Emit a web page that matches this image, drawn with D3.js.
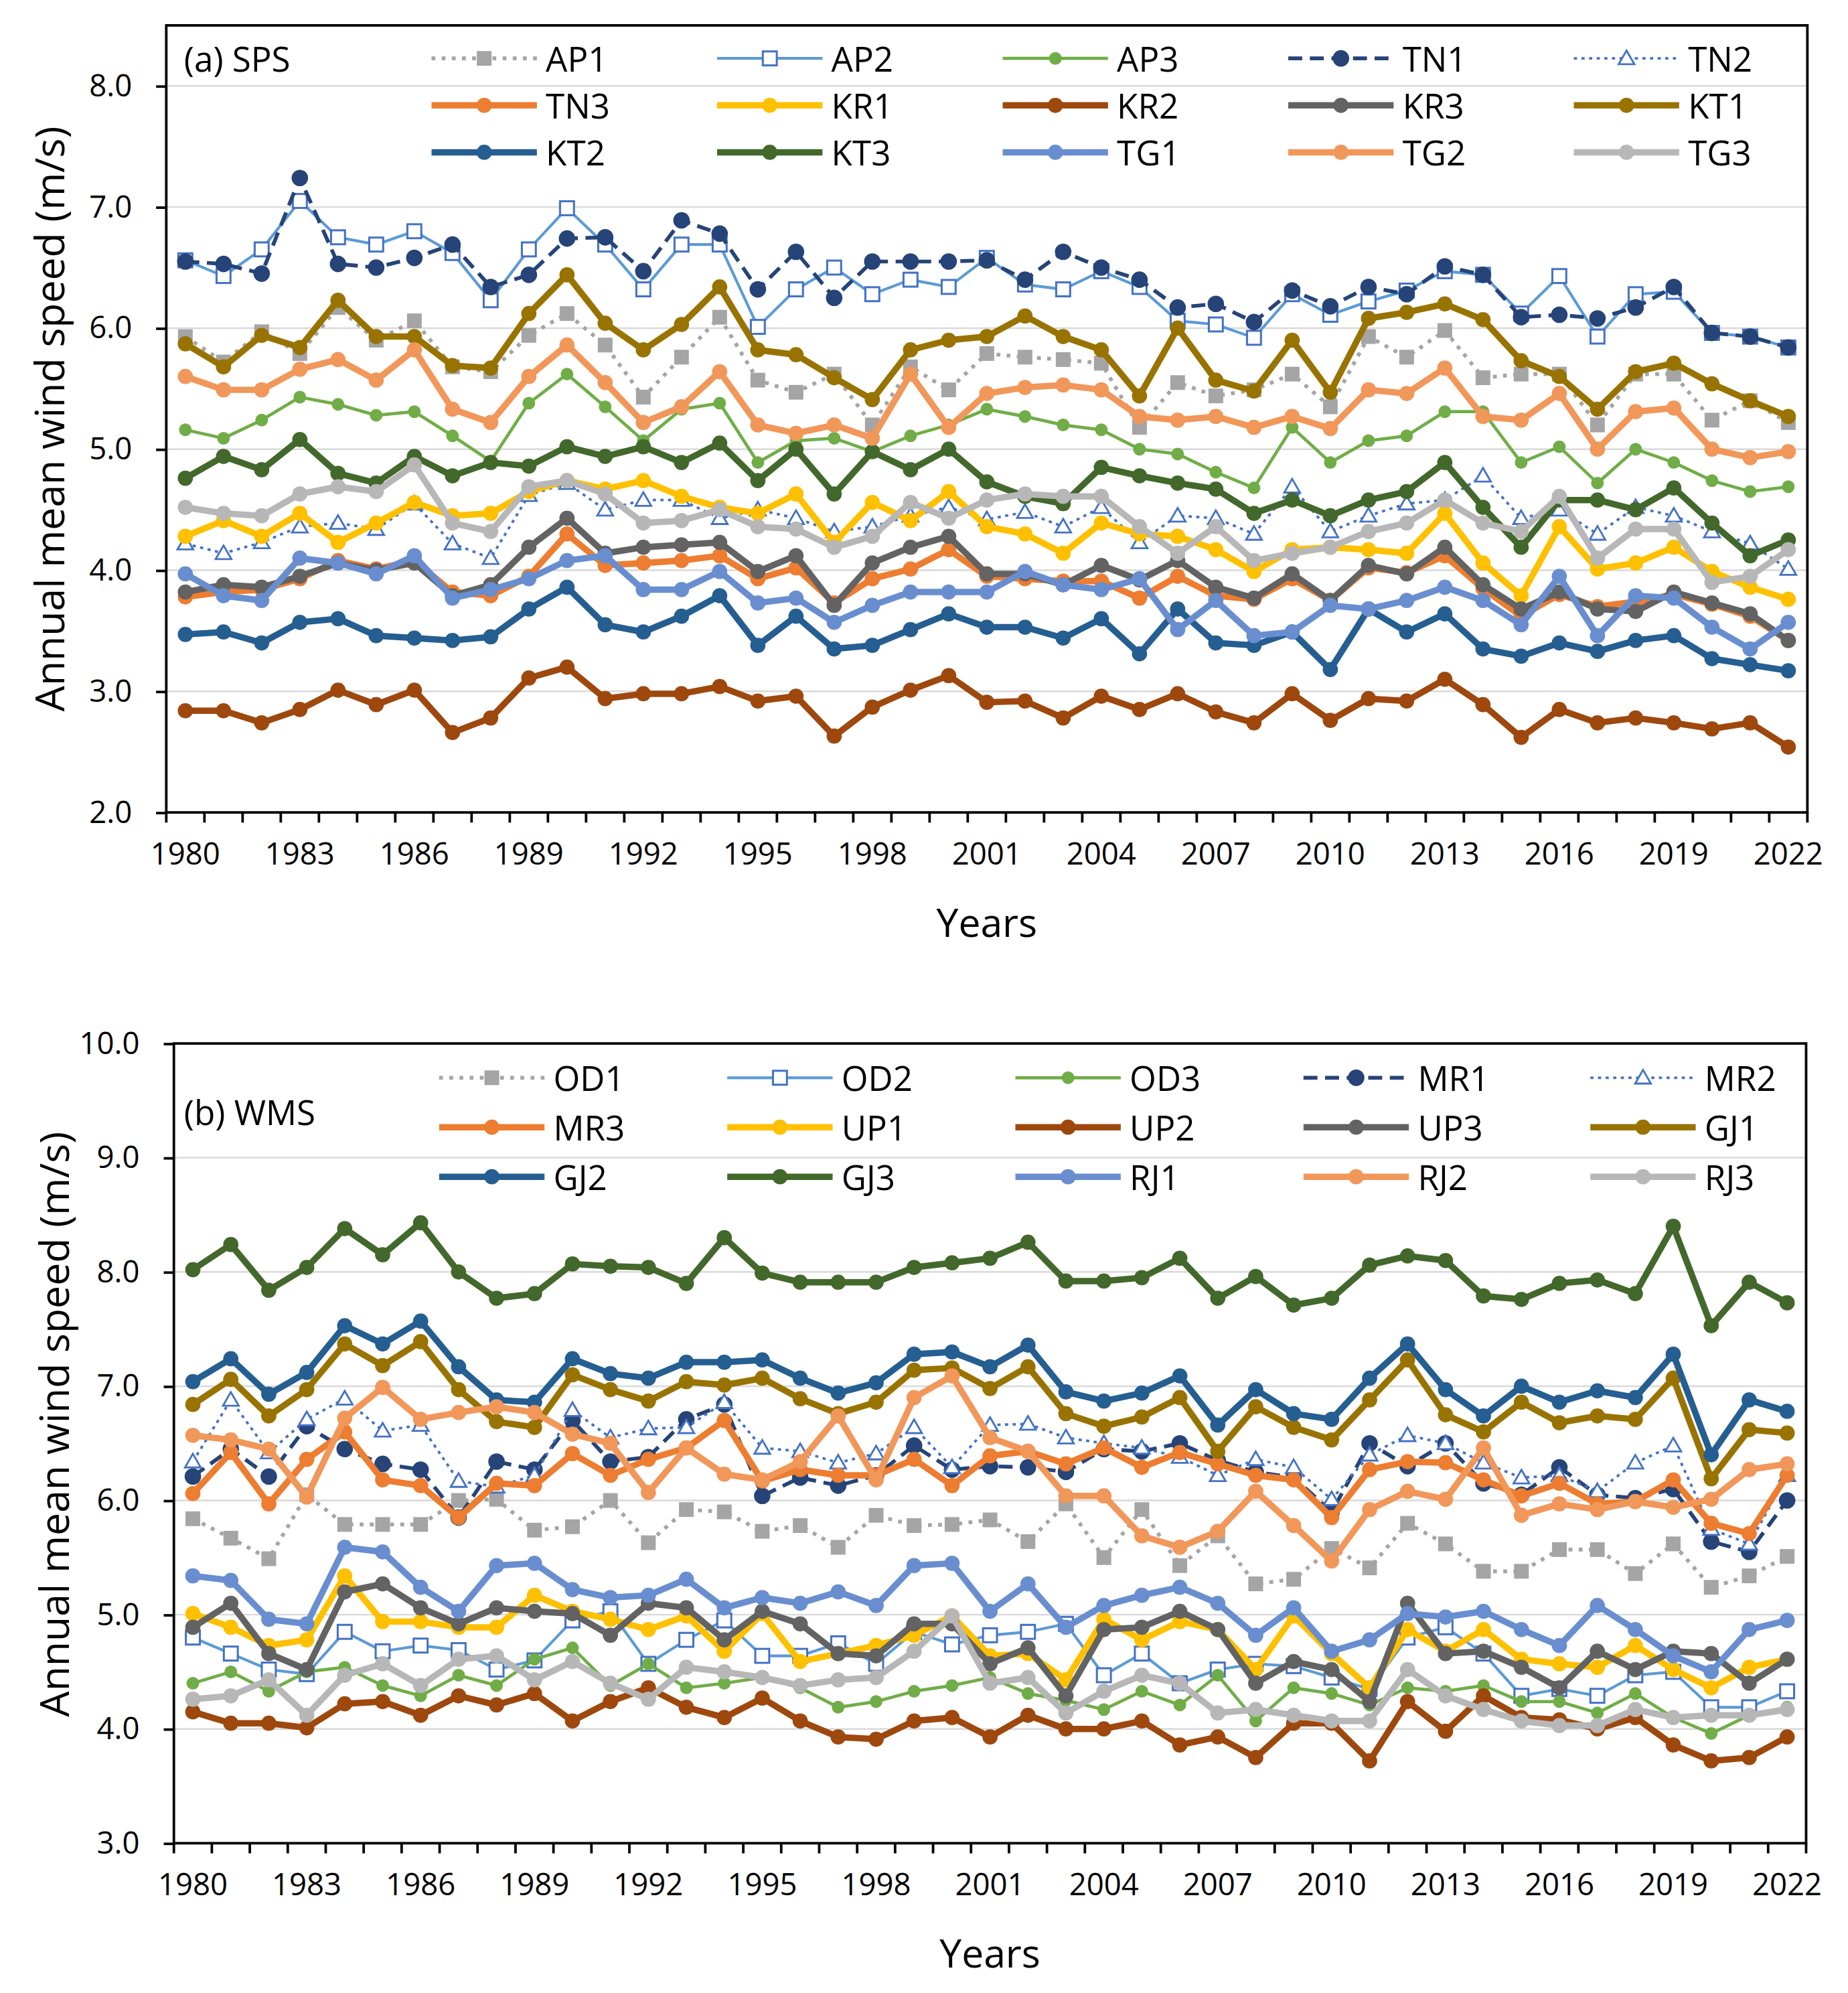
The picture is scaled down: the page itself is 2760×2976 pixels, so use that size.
<!DOCTYPE html>
<html>
<head>
<meta charset="utf-8">
<script src="https://cdn.jsdelivr.net/npm/d3@7/dist/d3.min.js"></script>
<style>
  body { margin: 0; background: #fff; }
  svg text { font-family: "Open Sans", "Noto Sans", sans-serif; fill: #000; }
</style>
</head>
<body>
<script>
// categories and ticks
var years = [1980,1981,1982,1983,1984,1985,1986,1987,1988,1989,1990,1991,1992,1993,1994,1995,1996,1997,1998,1999,
             2000,2001,2002,2003,2004,2005,2006,2007,2008,2009,2010,2011,2012,2013,2014,2015,2016,2017,2018,2019,
             2020,2021,2022];
var xTickLabels = [1980,1983,1986,1989,1992,1995,1998,2001,2004,2007,2010,2013,2016,2019,2022];
var yTicksSPS = [2,3,4,5,6,7,8];
var yTicksWMS = [3,4,5,6,7,8,9,10];

// (a) SPS - annual mean wind speed (m/s)
var AP1 = [5.93,5.72,5.97,5.79,6.17,5.90,6.06,5.68,5.64,5.94,6.12,5.86,5.43,5.76,6.09,5.57,5.47,5.62,5.20,5.68,5.49,5.79,5.76,5.74,5.71,5.18,5.55,5.44,5.49,5.62,5.35,5.93,5.76,5.98,5.59,5.62,5.62,5.20,5.62,5.62,5.24,5.40,5.22];
var AP2 = [6.56,6.43,6.65,7.05,6.75,6.69,6.80,6.62,6.23,6.65,6.99,6.69,6.32,6.69,6.69,6.01,6.32,6.50,6.28,6.40,6.34,6.58,6.36,6.32,6.47,6.34,6.06,6.03,5.92,6.28,6.11,6.22,6.31,6.47,6.44,6.12,6.43,5.93,6.28,6.30,5.96,5.93,5.84];
var AP3 = [5.16,5.09,5.24,5.43,5.37,5.28,5.31,5.11,4.90,5.38,5.62,5.35,5.07,5.33,5.38,4.89,5.07,5.09,4.98,5.11,5.20,5.33,5.27,5.20,5.16,5.00,4.96,4.81,4.68,5.18,4.89,5.07,5.11,5.31,5.31,4.89,5.02,4.72,5.00,4.89,4.74,4.65,4.69];
var TN1 = [6.55,6.53,6.45,7.24,6.53,6.50,6.58,6.69,6.34,6.44,6.74,6.75,6.47,6.89,6.78,6.32,6.63,6.25,6.55,6.55,6.55,6.56,6.40,6.63,6.50,6.40,6.17,6.20,6.05,6.31,6.18,6.34,6.28,6.51,6.44,6.09,6.11,6.08,6.17,6.34,5.96,5.93,5.84];
var TN2 = [4.22,4.14,4.23,4.36,4.39,4.34,4.55,4.22,4.10,4.62,4.72,4.50,4.58,4.58,4.43,4.50,4.43,4.32,4.36,4.45,4.52,4.42,4.48,4.36,4.52,4.23,4.45,4.43,4.30,4.69,4.32,4.45,4.55,4.58,4.78,4.43,4.50,4.30,4.52,4.45,4.32,4.22,4.01];
var TN3 = [3.78,3.82,3.84,3.93,4.08,4.01,4.08,3.82,3.79,3.95,4.30,4.04,4.06,4.08,4.12,3.93,4.02,3.73,3.93,4.01,4.17,3.95,3.93,3.91,3.91,3.77,3.95,3.79,3.76,3.93,3.75,4.02,3.98,4.12,3.85,3.62,3.80,3.70,3.74,3.80,3.72,3.62,3.42];
var KR1 = [4.28,4.41,4.28,4.47,4.23,4.39,4.56,4.45,4.47,4.65,4.74,4.67,4.74,4.61,4.52,4.47,4.63,4.23,4.56,4.41,4.65,4.36,4.30,4.14,4.39,4.30,4.28,4.17,3.99,4.17,4.19,4.17,4.14,4.47,4.06,3.79,4.36,4.01,4.06,4.19,3.99,3.86,3.76];
var KR2 = [2.84,2.84,2.74,2.85,3.01,2.89,3.01,2.66,2.78,3.11,3.20,2.94,2.98,2.98,3.04,2.92,2.96,2.63,2.87,3.01,3.13,2.91,2.92,2.78,2.96,2.85,2.98,2.83,2.74,2.98,2.76,2.94,2.92,3.10,2.89,2.62,2.85,2.74,2.78,2.74,2.69,2.74,2.54];
var KR3 = [3.82,3.88,3.86,3.95,4.06,4.00,4.06,3.79,3.88,4.19,4.43,4.14,4.19,4.21,4.23,3.99,4.12,3.71,4.06,4.19,4.28,3.97,3.97,3.88,4.04,3.92,4.08,3.86,3.77,3.97,3.75,4.04,3.97,4.19,3.88,3.68,3.82,3.68,3.66,3.82,3.73,3.64,3.42];
var KT1 = [5.87,5.68,5.94,5.84,6.23,5.93,5.93,5.69,5.67,6.12,6.44,6.04,5.82,6.03,6.34,5.82,5.78,5.59,5.41,5.82,5.90,5.93,6.10,5.93,5.82,5.44,6.00,5.57,5.48,5.90,5.47,6.08,6.13,6.20,6.07,5.73,5.60,5.33,5.64,5.71,5.54,5.40,5.27];
var KT2 = [3.47,3.49,3.40,3.57,3.60,3.46,3.44,3.42,3.45,3.68,3.86,3.55,3.49,3.62,3.79,3.38,3.62,3.35,3.38,3.51,3.64,3.53,3.53,3.44,3.60,3.31,3.68,3.40,3.38,3.49,3.18,3.68,3.49,3.64,3.35,3.29,3.40,3.33,3.42,3.46,3.27,3.22,3.17];
var KT3 = [4.76,4.94,4.83,5.08,4.80,4.72,4.94,4.78,4.89,4.86,5.02,4.94,5.02,4.89,5.05,4.74,5.00,4.63,4.98,4.83,5.00,4.73,4.61,4.55,4.85,4.78,4.72,4.67,4.47,4.58,4.45,4.58,4.65,4.89,4.52,4.19,4.58,4.58,4.50,4.68,4.39,4.12,4.25];
var TG1 = [3.97,3.79,3.75,4.10,4.06,3.97,4.12,3.77,3.84,3.93,4.08,4.12,3.84,3.84,3.99,3.73,3.77,3.57,3.71,3.82,3.82,3.82,3.99,3.88,3.84,3.93,3.51,3.75,3.46,3.49,3.71,3.68,3.75,3.86,3.75,3.55,3.95,3.46,3.79,3.77,3.53,3.35,3.57];
var TG2 = [5.60,5.49,5.49,5.66,5.74,5.57,5.82,5.33,5.22,5.60,5.86,5.55,5.22,5.35,5.64,5.20,5.13,5.20,5.09,5.62,5.18,5.46,5.51,5.53,5.49,5.27,5.24,5.27,5.18,5.27,5.17,5.49,5.46,5.67,5.27,5.24,5.46,5.00,5.31,5.34,5.00,4.93,4.98];
var TG3 = [4.52,4.47,4.45,4.63,4.69,4.65,4.87,4.39,4.32,4.69,4.74,4.63,4.39,4.41,4.50,4.36,4.34,4.19,4.28,4.56,4.43,4.58,4.63,4.61,4.61,4.36,4.14,4.36,4.08,4.14,4.19,4.32,4.39,4.58,4.39,4.32,4.61,4.10,4.34,4.34,3.90,3.95,4.17];

// (b) WMS - annual mean wind speed (m/s)
var OD1 = [5.84,5.67,5.49,6.05,5.79,5.79,5.79,6.00,6.01,5.74,5.77,6.00,5.63,5.92,5.90,5.73,5.78,5.59,5.87,5.78,5.79,5.83,5.64,5.97,5.50,5.92,5.43,5.69,5.27,5.31,5.58,5.41,5.80,5.62,5.38,5.38,5.57,5.57,5.36,5.62,5.24,5.34,5.51];
var OD2 = [4.80,4.66,4.52,4.48,4.85,4.68,4.73,4.69,4.52,4.60,4.95,5.03,4.57,4.78,4.95,4.64,4.64,4.75,4.57,4.85,4.74,4.82,4.85,4.92,4.47,4.66,4.40,4.52,4.57,4.55,4.45,4.35,4.80,4.89,4.66,4.29,4.35,4.29,4.47,4.50,4.19,4.19,4.33];
var OD3 = [4.40,4.50,4.33,4.50,4.54,4.38,4.29,4.47,4.38,4.61,4.71,4.38,4.57,4.36,4.40,4.45,4.36,4.19,4.24,4.33,4.38,4.45,4.31,4.25,4.17,4.33,4.21,4.47,4.07,4.36,4.31,4.21,4.36,4.33,4.38,4.24,4.24,4.14,4.31,4.10,3.96,4.12,4.19];
var MR1 = [6.21,6.45,6.21,6.65,6.45,6.32,6.27,5.85,6.34,6.27,6.70,6.34,6.38,6.71,6.84,6.04,6.20,6.13,6.22,6.48,6.27,6.30,6.29,6.25,6.45,6.43,6.50,6.35,6.25,6.20,5.90,6.50,6.30,6.50,6.15,6.05,6.29,6.05,6.02,6.10,5.64,5.55,6.00];
var MR2 = [6.34,6.88,6.42,6.71,6.89,6.61,6.66,6.17,6.12,6.22,6.79,6.55,6.63,6.64,6.86,6.46,6.43,6.33,6.41,6.64,6.29,6.66,6.67,6.55,6.50,6.46,6.38,6.22,6.36,6.29,6.01,6.40,6.57,6.50,6.33,6.20,6.22,6.08,6.33,6.48,5.75,5.62,6.22];
var MR3 = [6.06,6.42,5.97,6.36,6.60,6.18,6.13,5.85,6.15,6.13,6.41,6.22,6.36,6.46,6.70,6.17,6.27,6.22,6.22,6.36,6.13,6.39,6.43,6.32,6.46,6.29,6.42,6.32,6.22,6.18,5.85,6.27,6.34,6.33,6.18,6.04,6.15,5.97,5.99,6.18,5.80,5.71,6.22];
var UP1 = [5.01,4.89,4.73,4.78,5.34,4.94,4.94,4.89,4.89,5.17,5.03,4.96,4.87,4.99,4.68,5.01,4.59,4.66,4.73,4.82,4.99,4.64,4.66,4.43,4.96,4.78,4.94,4.87,4.52,4.99,4.66,4.36,4.87,4.68,4.87,4.61,4.57,4.54,4.73,4.52,4.36,4.54,4.61];
var UP2 = [4.15,4.05,4.05,4.01,4.22,4.24,4.12,4.29,4.21,4.31,4.07,4.24,4.36,4.19,4.10,4.27,4.07,3.93,3.91,4.07,4.10,3.93,4.12,4.00,4.00,4.07,3.86,3.93,3.75,4.05,4.05,3.72,4.24,3.98,4.29,4.10,4.08,4.00,4.10,3.86,3.72,3.75,3.93];
var UP3 = [4.89,5.10,4.66,4.52,5.20,5.27,5.06,4.92,5.06,5.03,5.01,4.82,5.10,5.06,4.78,5.03,4.92,4.66,4.64,4.92,4.92,4.57,4.71,4.29,4.87,4.89,5.03,4.87,4.40,4.59,4.52,4.24,5.10,4.66,4.68,4.54,4.36,4.68,4.52,4.68,4.66,4.40,4.61];
var GJ1 = [6.84,7.06,6.74,6.97,7.37,7.18,7.39,6.97,6.69,6.64,7.10,6.97,6.87,7.04,7.01,7.07,6.89,6.76,6.86,7.14,7.16,6.98,7.17,6.76,6.65,6.73,6.90,6.43,6.82,6.64,6.53,6.88,7.23,6.75,6.60,6.86,6.68,6.74,6.71,7.07,6.19,6.62,6.59];
var GJ2 = [7.04,7.24,6.93,7.12,7.53,7.37,7.57,7.17,6.88,6.86,7.24,7.11,7.07,7.21,7.21,7.23,7.07,6.94,7.03,7.28,7.30,7.17,7.36,6.95,6.87,6.94,7.09,6.66,6.97,6.76,6.71,7.07,7.37,6.97,6.74,7.00,6.86,6.96,6.90,7.28,6.40,6.88,6.78];
var GJ3 = [8.02,8.24,7.84,8.04,8.38,8.15,8.43,8.00,7.77,7.81,8.07,8.05,8.04,7.90,8.30,7.99,7.91,7.91,7.91,8.04,8.08,8.12,8.26,7.92,7.92,7.95,8.12,7.77,7.96,7.71,7.77,8.06,8.14,8.10,7.79,7.76,7.90,7.93,7.81,8.40,7.53,7.91,7.73];
var RJ1 = [5.34,5.30,4.96,4.92,5.59,5.55,5.24,5.03,5.43,5.45,5.22,5.15,5.17,5.31,5.06,5.15,5.10,5.20,5.08,5.43,5.45,5.03,5.27,4.89,5.08,5.17,5.24,5.10,4.82,5.06,4.68,4.78,5.01,4.98,5.03,4.87,4.73,5.08,4.87,4.64,4.50,4.87,4.95];
var RJ2 = [6.57,6.53,6.45,6.03,6.72,6.99,6.71,6.77,6.82,6.77,6.58,6.50,6.07,6.46,6.23,6.18,6.34,6.74,6.18,6.90,7.09,6.55,6.43,6.04,6.04,5.69,5.59,5.73,6.08,5.78,5.47,5.92,6.08,6.01,6.46,5.87,5.97,5.92,5.99,5.94,6.01,6.27,6.32];
var RJ3 = [4.26,4.29,4.43,4.12,4.47,4.57,4.38,4.61,4.64,4.43,4.59,4.40,4.26,4.54,4.50,4.45,4.38,4.43,4.45,4.68,4.99,4.40,4.45,4.14,4.33,4.47,4.40,4.14,4.17,4.12,4.07,4.07,4.52,4.29,4.17,4.07,4.03,4.03,4.17,4.10,4.12,4.12,4.17];

// one style per legend slot (same in both panels), Excel office palette
var styles = [
  {color: "#A5A5A5", width: 3,   dash: "3 5",      marker: "square",  mfill: "#A5A5A5", size: 10},
  {color: "#5B9BD5", width: 2.2, dash: null,       marker: "square",  mfill: "#fff", mstroke: "#4472C4", size: 11},
  {color: "#70AD47", width: 2.5, dash: null,       marker: "circle",  mfill: "#70AD47", size: 9},
  {color: "#264478", width: 3,   dash: "11 6",     marker: "circle",  mfill: "#264478", size: 12},
  {color: "#4472C4", width: 2,   dash: "2.5 3.5",  marker: "triangle",mfill: "#fff", mstroke: "#4472C4", size: 11},
  {color: "#ED7D31", width: 5,   dash: null,       marker: "circle",  mfill: "#ED7D31", size: 11},
  {color: "#FFC000", width: 5,   dash: null,       marker: "circle",  mfill: "#FFC000", size: 11},
  {color: "#9E480E", width: 5,   dash: null,       marker: "circle",  mfill: "#9E480E", size: 11},
  {color: "#636363", width: 5,   dash: null,       marker: "circle",  mfill: "#636363", size: 11},
  {color: "#997300", width: 5,   dash: null,       marker: "circle",  mfill: "#997300", size: 11},
  {color: "#255E91", width: 5,   dash: null,       marker: "circle",  mfill: "#255E91", size: 11},
  {color: "#43682B", width: 5,   dash: null,       marker: "circle",  mfill: "#43682B", size: 11},
  {color: "#698ED0", width: 5,   dash: null,       marker: "circle",  mfill: "#698ED0", size: 11},
  {color: "#F1975A", width: 5,   dash: null,       marker: "circle",  mfill: "#F1975A", size: 11},
  {color: "#B7B7B7", width: 5,   dash: null,       marker: "circle",  mfill: "#B7B7B7", size: 11}
];

var namesSPS = ["AP1","AP2","AP3","TN1","TN2","TN3","KR1","KR2","KR3","KT1","KT2","KT3","TG1","TG2","TG3"];
var valuesSPS = [AP1,AP2,AP3,TN1,TN2,TN3,KR1,KR2,KR3,KT1,KT2,KT3,TG1,TG2,TG3];
var namesWMS = ["OD1","OD2","OD3","MR1","MR2","MR3","UP1","UP2","UP3","GJ1","GJ2","GJ3","RJ1","RJ2","RJ3"];
var valuesWMS = [OD1,OD2,OD3,MR1,MR2,MR3,UP1,UP2,UP3,GJ1,GJ2,GJ3,RJ1,RJ2,RJ3];

// drawing is done in the reference's half-size coordinates and scaled up
var W = 1456, H = 1570;
var svg = d3.select("body").append("svg")
    .attr("width", 2760)
    .attr("height", 2976)
    .attr("viewBox", "0 0 " + W + " " + H)
    .attr("preserveAspectRatio", "none");

svg.append("rect").attr("x", 0).attr("y", 0).attr("width", W).attr("height", H).style("fill", "#fff");

var draw_marker = function(g, st, cx, cy) {
  if (st.marker == "circle") {
    g.append("circle").attr("cx", cx).attr("cy", cy).attr("r", st.size / 2)
      .style("fill", st.mfill).style("stroke", st.mfill).style("stroke-width", 1);
  } else if (st.marker == "square") {
    g.append("rect").attr("x", cx - st.size / 2).attr("y", cy - st.size / 2)
      .attr("width", st.size).attr("height", st.size)
      .style("fill", st.mfill).style("stroke", st.mstroke || st.mfill).style("stroke-width", 1.6);
  } else {
    g.append("path").attr("d", d3.symbol().type(d3.symbolTriangle).size(st.size * st.size * 0.55)())
      .attr("transform", "translate(" + cx + "," + (cy + 1) + ")")
      .style("fill", st.mfill).style("stroke", st.mstroke).style("stroke-width", 1.5);
  }
};

var drawPanel = function(p) {
  var x = d3.scaleBand().domain(years).range([p.left, p.right]).padding(0);
  var y = d3.scaleLinear().domain([p.ymin, p.ymax]).range([p.bottom, p.top]);
  var bw = x.bandwidth();
  var g = svg.append("g");

  // horizontal gridlines
  g.selectAll(".grid").data(p.yticks.filter(function(d) { return d > p.ymin; }))
    .enter().append("line")
      .attr("x1", p.left).attr("x2", p.right)
      .attr("y1", function(d) { return y(d); }).attr("y2", function(d) { return y(d); })
      .style("stroke", "#d9d9d9").style("stroke-width", 1.3);

  // series, first one at the back like in excel
  p.values.forEach(function(vals, i) {
    var st = styles[i];
    var line = d3.line()
      .x(function(d, j) { return x(years[j]) + bw / 2; })
      .y(function(d) { return y(d); });
    g.append("path").datum(vals)
      .attr("d", line)
      .style("fill", "none")
      .style("stroke", st.color)
      .style("stroke-width", st.width)
      .style("stroke-linejoin", "round")
      .style("stroke-dasharray", st.dash);
    var mg = g.append("g");
    vals.forEach(function(v, j) {
      draw_marker(mg, st, x(years[j]) + bw / 2, y(v));
    });
  });

  // frame
  g.append("rect")
    .attr("x", p.left).attr("y", p.top)
    .attr("width", p.right - p.left).attr("height", p.bottom - p.top)
    .style("fill", "none").style("stroke", "#000").style("stroke-width", 2);

  // y axis
  var yAxis = d3.axisLeft(y).tickValues(p.yticks).tickFormat(d3.format(".1f"))
    .tickSize(8).tickPadding(19);
  var ya = g.append("g").attr("transform", "translate(" + p.left + ",0)").call(yAxis);
  ya.select(".domain").remove();
  ya.selectAll(".tick line").style("stroke", "#000").style("stroke-width", 2);
  ya.selectAll(".tick text").style("font-size", "24px").style("fill", "#000");

  // x axis: ticks between categories, labels every 3 years
  var bounds = years.map(function(d) { return x(d); }).concat([p.right]);
  g.selectAll(".xt").data(bounds).enter().append("line")
    .attr("x1", function(d) { return d; }).attr("x2", function(d) { return d; })
    .attr("y1", p.bottom).attr("y2", p.bottom + 8)
    .style("stroke", "#000").style("stroke-width", 2);
  var xAxis = d3.axisBottom(x).tickValues(xTickLabels).tickSize(0).tickPadding(24);
  var xa = g.append("g").attr("transform", "translate(0," + p.bottom + ")").call(xAxis);
  xa.select(".domain").remove();
  xa.selectAll(".tick text").style("font-size", "24px").style("fill", "#000");

  // titles
  g.append("text")
    .attr("x", (p.left + p.right) / 2).attr("y", p.bottom + 86)
    .attr("text-anchor", "middle").attr("dominant-baseline", "central")
    .style("font-size", "31px").text("Years");
  g.append("text")
    .attr("transform", "translate(" + p.ytitleX + "," + p.ytitleY + ") rotate(-90)")
    .attr("text-anchor", "middle").attr("dominant-baseline", "central")
    .style("font-size", "32px").text("Annual mean wind speed (m/s)");
  g.append("text")
    .attr("x", 145).attr("y", p.labelY)
    .attr("dominant-baseline", "central")
    .style("font-size", "27px").text(p.label);

  // legend, 3 rows x 5 columns
  p.names.forEach(function(name, i) {
    var st = styles[i];
    var lx = p.legX[i % 5], ly = p.legY[Math.floor(i / 5)];
    var lg = g.append("g");
    lg.append("line")
      .attr("x1", lx).attr("x2", lx + 83).attr("y1", ly).attr("y2", ly)
      .style("stroke", st.color).style("stroke-width", st.width)
      .style("stroke-dasharray", st.dash);
    draw_marker(lg, st, lx + 41.5, ly);
    lg.append("text")
      .attr("x", lx + 90).attr("y", ly)
      .attr("dominant-baseline", "central")
      .style("font-size", "27px").text(name);
  });
};

drawPanel({
  left: 131, right: 1424, top: 20, bottom: 640, ymin: 2, ymax: 8.5, yticks: yTicksSPS,
  names: namesSPS, values: valuesSPS,
  legX: [340, 565, 790, 1015, 1240], legY: [46, 83, 120],
  label: "(a) SPS", labelY: 46, ytitleX: 38, ytitleY: 330
});
drawPanel({
  left: 137, right: 1423, top: 822, bottom: 1452, ymin: 3, ymax: 10, yticks: yTicksWMS,
  names: namesWMS, values: valuesWMS,
  legX: [346, 573, 800, 1027, 1253], legY: [849, 888, 927],
  label: "(b) WMS", labelY: 876, ytitleX: 42, ytitleY: 1122
});
</script>
</body>
</html>
